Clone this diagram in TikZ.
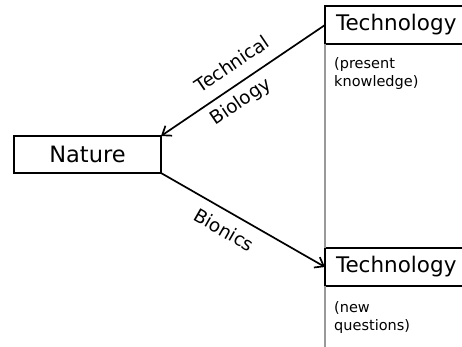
\documentclass[tikz,border=0pt]{standalone}
\usepackage{fontspec}
\setmainfont{DejaVu Sans}
\usetikzlibrary{arrows.meta}
\tikzset{barb/.tip={Straight Barb[length=8pt, width=12pt, line width=1.7pt]}}
\begin{document}
\begin{tikzpicture}[x=1pt,y=-1pt,
  box/.style={draw=black, line width=2.3pt, outer sep=0pt, inner sep=0pt,
    minimum height=38pt, font=\fontsize{21.5}{25}\selectfont},
  techbox/.style={box, anchor=north west, minimum width=140pt,
    inner xsep=11pt, text width=118pt, align=left},
  note/.style={anchor=north west, inner sep=0pt, align=left,
    font=\fontsize{14.5}{18}\selectfont},
  lbl/.style={font=\fontsize{18.5}{22}\selectfont, sloped, inner sep=0pt},
  link/.style={line width=1.7pt},
  rail/.style={draw=black!40, line width=1.2pt}]
  % page frame
  \clip (0,0) rectangle (462,347);

  % boxes
  \node[box, minimum width=147pt, minimum height=37pt, font=\fontsize{22.5}{26}\selectfont]
    (nat) at (87.5,154.5) {Nature};
  \node[techbox] (t1) at (325,6) {Technology};
  \node[techbox] (t2) at (325,248) {Technology};
  \coordinate (railend) at (325,350);

  % notes under the technology boxes
  \node[note] (n1) at (334,57) {(present\\knowledge)};
  \node[note] (n2) at (334,301) {(new\\questions)};

  % vertical rail joining the two technology boxes
  \draw[rail] (t1.south west) -- (t2.north west);
  \draw[rail] (t2.south west) -- (railend);

  % connectors
  \draw[link, barb-] (nat.north east)
    -- node[lbl, above=12pt, pos=0.50] {Technical}
       node[lbl, below=7pt, pos=0.43] {Biology} (t1.west);
  \draw[link, -barb] (nat.south east)
    -- node[lbl, below=10pt, pos=0.44] {Bionics} (t2.west);
\end{tikzpicture}
\end{document}
